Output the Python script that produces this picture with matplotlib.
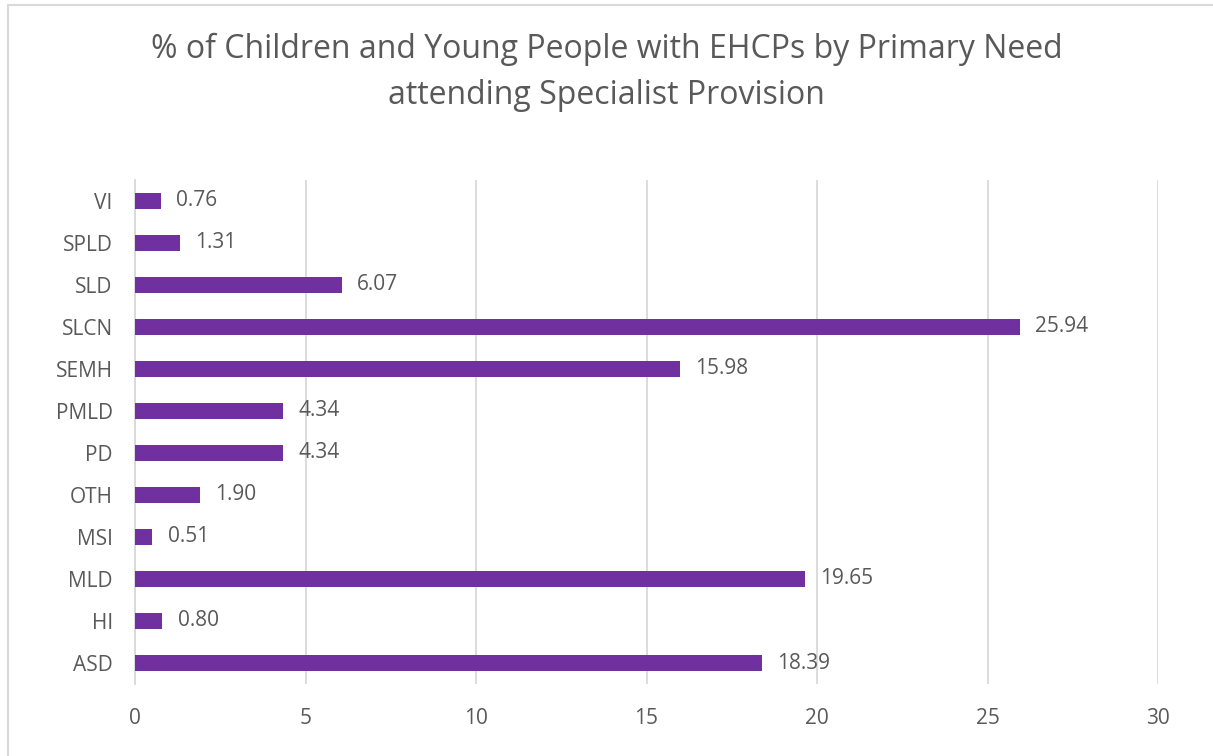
import matplotlib.pyplot as plt
from matplotlib.lines import Line2D

# Primary need categories (bottom to top) and % attending specialist provision
needs = ['ASD', 'HI', 'MLD', 'MSI', 'OTH', 'PD', 'PMLD', 'SEMH', 'SLCN', 'SLD', 'SPLD', 'VI']
pct = [18.39, 0.80, 19.65, 0.51, 1.90, 4.34, 4.34, 15.98, 25.94, 6.07, 1.31, 0.76]
x_ticks = [0, 5, 10, 15, 20, 25, 30]

bar_color = '#7030A0'
text_color = '#595959'
grid_color = '#D9D9D9'

plt.rcParams['font.family'] = ['Open Sans', 'DejaVu Sans']

fig = plt.figure(figsize=(12.13, 7.56), dpi=100)
ax = fig.add_axes([0.1113, 0.0952, 0.8434, 0.667])

pos = list(range(len(needs)))
ax.barh(pos, pct, height=0.38, color=bar_color, zorder=3)

# value labels to the right of each bar
for y, v in zip(pos, pct):
    ax.annotate(f'{v:.2f}', xy=(v, y), xytext=(11, 0), textcoords='offset points',
                va='center', ha='left', fontsize=15, color=text_color)

ax.set_xlim(0, 30)
ax.set_ylim(-0.5, len(needs) - 0.5)
ax.set_xticks(x_ticks)
ax.set_yticks(pos)
ax.set_yticklabels(needs)
ax.tick_params(axis='both', length=0, labelsize=15, labelcolor=text_color)
ax.tick_params(axis='y', pad=16)
ax.tick_params(axis='x', pad=17)
ax.xaxis.grid(True, color=grid_color, linewidth=1.3, zorder=0)

for side in ['top', 'right', 'bottom']:
    ax.spines[side].set_visible(False)
ax.spines['left'].set_color(grid_color)
ax.spines['left'].set_linewidth(1.3)

fig.text(0.5, 0.9045, '% of Children and Young People with EHCPs by Primary Need\nattending Specialist Provision',
         ha='center', va='center', fontsize=23, color=text_color, linespacing=1.5)

# chart frame
fig.add_artist(Line2D([7.5 / 1213, 1], [1 - 5 / 756, 1 - 5 / 756], color=grid_color, linewidth=1.5,
                      transform=fig.transFigure))
fig.add_artist(Line2D([7.5 / 1213, 7.5 / 1213], [0, 1 - 5 / 756], color=grid_color, linewidth=1.5,
                      transform=fig.transFigure))

fig.savefig('out.png', dpi=100, facecolor='white')
